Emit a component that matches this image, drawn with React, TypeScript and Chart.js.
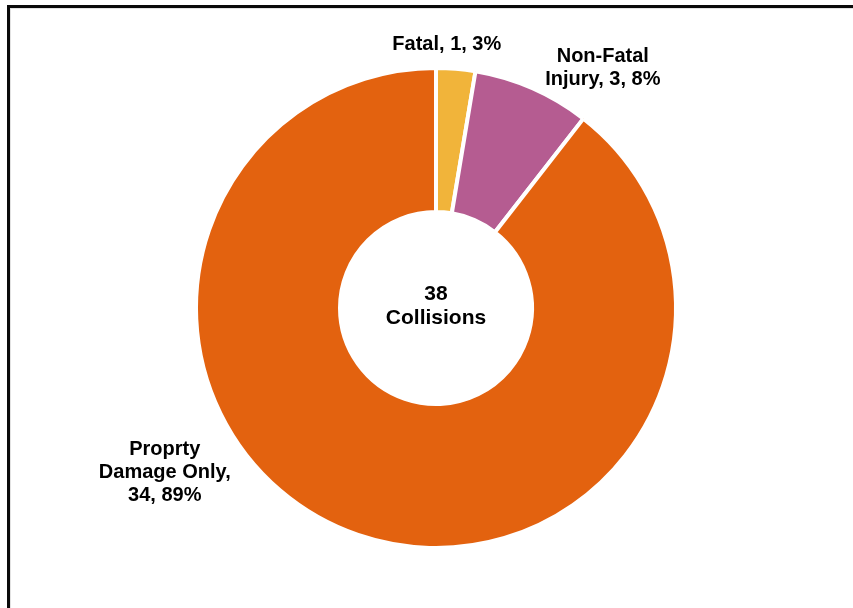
import React, { useEffect, useRef } from "react";
import { Chart, registerables } from "chart.js";

Chart.register(...registerables);

const categories = ["Fatal", "Non-Fatal Injury", "Proprty Damage Only"];
const counts = [1, 3, 34];
const percents = ["3%", "8%", "89%"];
const labelLines = [
  ["Fatal, 1, 3%"],
  ["Non-Fatal", "Injury, 3, 8%"],
  ["Proprty", "Damage Only,", "34, 89%"],
];
const centerLines = ["38", "Collisions"];
const colors = ["#F1B43A", "#B55C91", "#E3620F"];

// label anchors relative to arc center, in units of outer radius
const LABEL_ANCHORS: [number, number][] = [
  [0.045, -1.1],
  [0.695, -1.0],
  [-1.13, 0.685],
];

const FONT = "bold 20px 'Liberation Sans', Arial, sans-serif";
const CENTER_FONT = "bold 21px 'Liberation Sans', Arial, sans-serif";

const framePlugin = {
  id: "frame",
  beforeDraw(chart: any) {
    const ctx = chart.ctx;
    ctx.save();
    ctx.fillStyle = "#ffffff";
    ctx.fillRect(0, 0, chart.width, chart.height);
    ctx.fillStyle = "#e2e2e2";
    ctx.fillRect(9, 7, 2, chart.height);
    ctx.fillRect(9, 7, chart.width, 2);
    ctx.fillStyle = "#0a0a0a";
    ctx.fillRect(7, 5, 3, chart.height);
    ctx.fillRect(7, 5, chart.width, 3);
    ctx.restore();
  },
};

const labelPlugin = {
  id: "labels",
  afterDraw(chart: any) {
    const meta = chart.getDatasetMeta(0);
    const arc = meta.data[0];
    if (!arc) return;
    const { x: cx, y: cy, outerRadius } = arc.getProps(["x", "y", "outerRadius"], true);
    const R = outerRadius;
    const ctx = chart.ctx;
    ctx.save();
    ctx.fillStyle = "#000000";
    ctx.textAlign = "center";
    ctx.textBaseline = "middle";
    ctx.font = FONT;
    const lh = 23;
    labelLines.forEach((lines, i) => {
      const [fx, fy] = LABEL_ANCHORS[i];
      const ax = cx + fx * R;
      const ay = cy + fy * R;
      const top = ay - ((lines.length - 1) * lh) / 2;
      lines.forEach((t, j) => ctx.fillText(t, ax, top + j * lh));
    });
    ctx.font = CENTER_FONT;
    const clh = 24;
    const ctop = cy - 2 - ((centerLines.length - 1) * clh) / 2;
    centerLines.forEach((t, j) => ctx.fillText(t, cx, ctop + j * clh));
    ctx.restore();
  },
};

export default function App() {
  const ref = useRef<HTMLCanvasElement | null>(null);
  useEffect(() => {
    if (!ref.current) return;
    const chart = new Chart(ref.current, {
      type: "doughnut",
      data: {
        labels: categories,
        datasets: [
          {
            data: counts,
            backgroundColor: colors,
            borderColor: "#ffffff",
            borderWidth: 4,
          },
        ],
      },
      options: {
        responsive: false,
        animation: false,
        cutout: "40%",
        layout: { padding: { left: 194, right: 175, top: 66, bottom: 58 } },
        plugins: {
          legend: { display: false },
          tooltip: { enabled: false },
        },
      },
      plugins: [framePlugin, labelPlugin],
    });
    return () => chart.destroy();
  }, []);
  return (
    <div style={{ position: "absolute", left: 0, top: 0, width: 853, height: 608 }}>
      <canvas ref={ref} width={853} height={608} style={{ display: "block" }} />
    </div>
  );
}
